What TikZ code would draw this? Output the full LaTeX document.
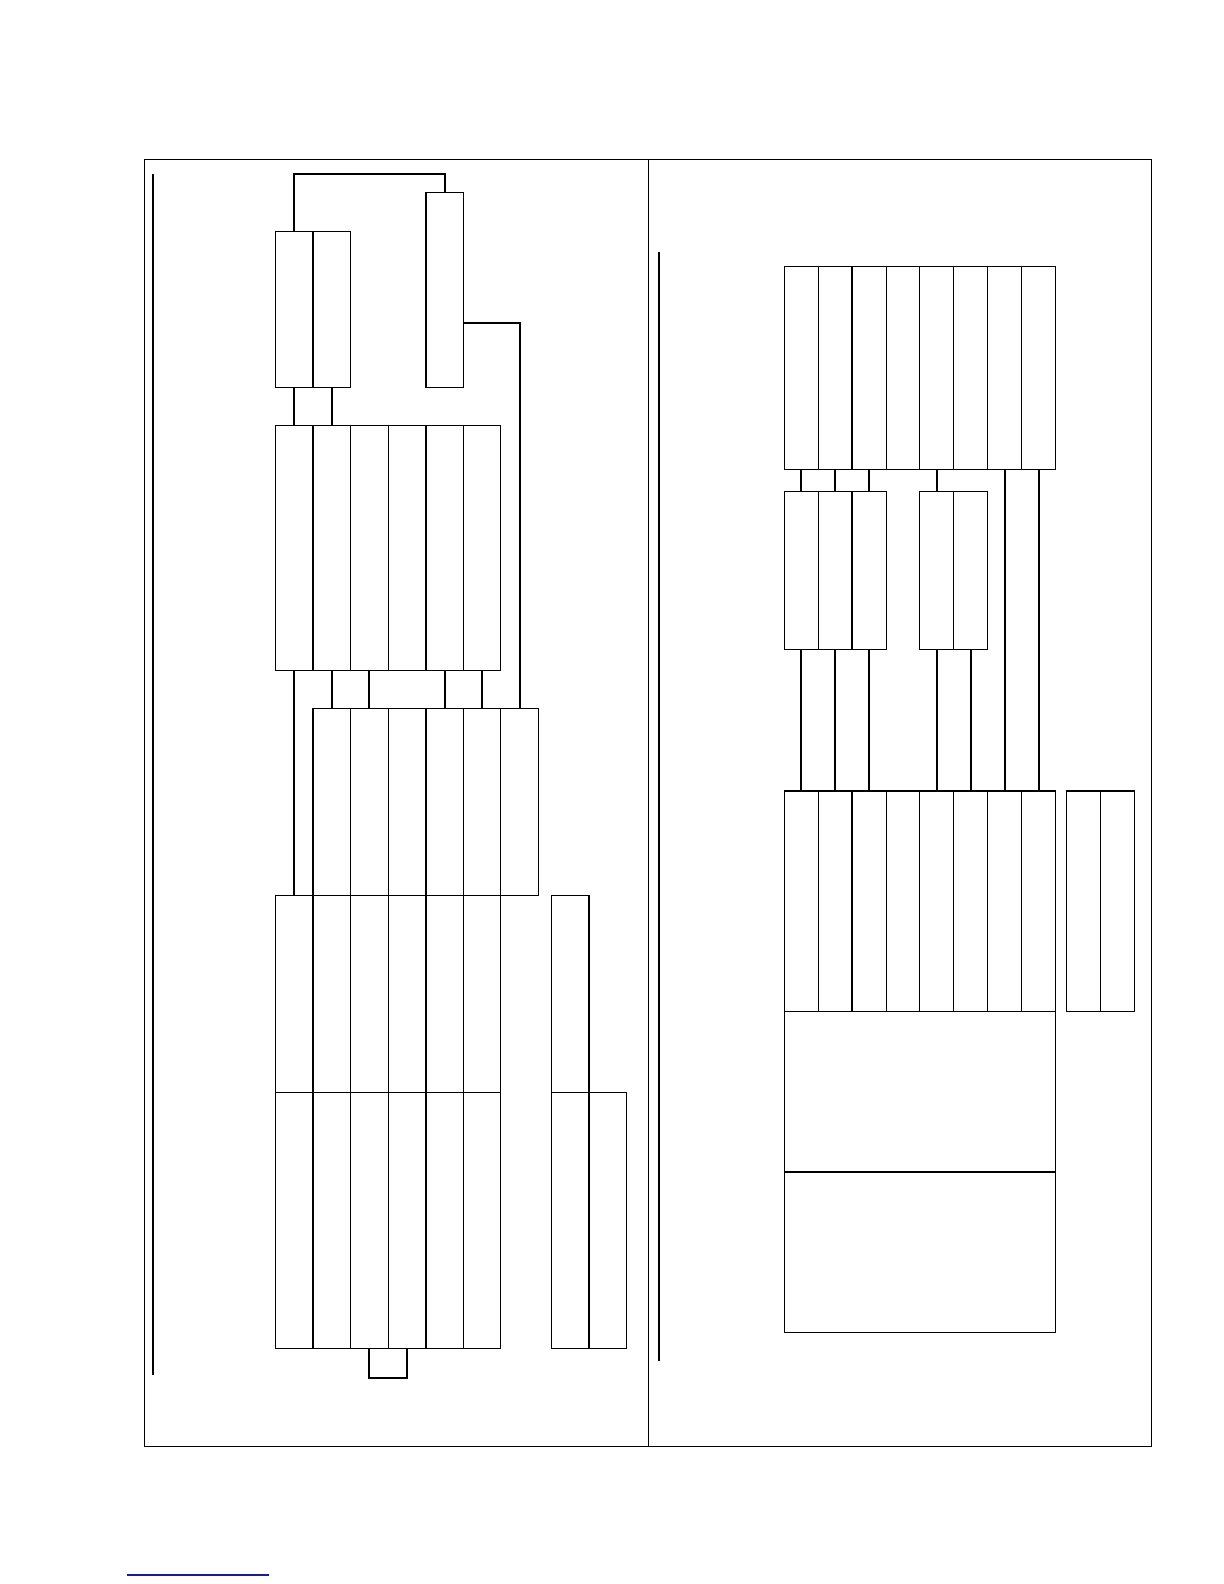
\documentclass[tikz,border=0pt]{standalone}
\usepackage{tikz}
\usepackage{xcolor}
\definecolor{underlineblue}{HTML}{1A1A9C}

\tikzset{
    lcol/.style = {draw, rectangle, line width = 0.5pt, inner sep = 0pt, outer sep = 0pt, minimum width = 18.8pt},
    rcol/.style = {draw, rectangle, line width = 0.5pt, inner sep = 0pt, outer sep = 0pt, minimum width = 16.95pt},
    divider/.style = {line width = 0.9pt},
    link/.style = {line width = 1pt}
}

\begin{document}
\begin{tikzpicture}[x = 0.5pt, y = -0.5pt]
        \useasboundingbox (0, 0) rectangle (1224, 1584);

        % Frame
        \draw [line width = 0.6pt] (144.3, 159.3) rectangle (1151.6, 1446.5);
        \draw [line width = 0.6pt] (648.3, 159.3) -- (648.3, 1446.5);
        \draw [link] (152.7, 174) -- (152.7, 1375);
        \draw [link] (659, 252.3) -- (659, 1360.7);

        % Nodes, left half
        \node [lcol, minimum height = 78.15pt] (a1) at (294.1, 309.15) {};
        \node [lcol, minimum height = 78.15pt] (a2) at (331.7, 309.15) {};
        \node [lcol, minimum height = 97.5pt] (b) at (444.5, 289.8) {};

        \node [lcol, minimum height = 122.65pt] (c1) at (294.1, 547.65) {};
        \node [lcol, minimum height = 122.65pt] (c2) at (331.7, 547.65) {};
        \node [lcol, minimum height = 122.65pt] (c3) at (369.3, 547.65) {};
        \node [lcol, minimum height = 122.65pt] (c4) at (406.9, 547.65) {};
        \node [lcol, minimum height = 122.65pt] (c5) at (444.5, 547.65) {};
        \node [lcol, minimum height = 122.65pt] (c6) at (482.1, 547.65) {};

        \node [lcol, minimum height = 93.35pt] (e2) at (331.7, 801.65) {};
        \node [lcol, minimum height = 93.35pt] (e3) at (369.3, 801.65) {};
        \node [lcol, minimum height = 93.35pt] (e4) at (406.9, 801.65) {};
        \node [lcol, minimum height = 93.35pt] (e5) at (444.5, 801.65) {};
        \node [lcol, minimum height = 93.35pt] (e6) at (482.1, 801.65) {};
        \node [lcol, minimum height = 93.35pt] (e7) at (519.7, 801.65) {};

        \node [lcol, minimum height = 98.65pt] (d1) at (294.1, 993.65) {};
        \node [lcol, minimum height = 98.65pt] (d2) at (331.7, 993.65) {};
        \node [lcol, minimum height = 98.65pt] (d3) at (369.3, 993.65) {};
        \node [lcol, minimum height = 98.65pt] (d4) at (406.9, 993.65) {};
        \node [lcol, minimum height = 98.65pt] (d5) at (444.5, 993.65) {};
        \node [lcol, minimum height = 98.65pt] (d6) at (482.1, 993.65) {};
        \node [lcol, minimum height = 98.65pt] (f1) at (570.1, 993.65) {};

        \node [lcol, minimum height = 127.85pt] (h1) at (294.1, 1220.15) {};
        \node [lcol, minimum height = 127.85pt] (h2) at (331.7, 1220.15) {};
        \node [lcol, minimum height = 127.85pt] (h3) at (369.3, 1220.15) {};
        \node [lcol, minimum height = 127.85pt] (h4) at (406.9, 1220.15) {};
        \node [lcol, minimum height = 127.85pt] (h5) at (444.5, 1220.15) {};
        \node [lcol, minimum height = 127.85pt] (h6) at (482.1, 1220.15) {};
        \node [lcol, minimum height = 127.85pt] (g1) at (570.1, 1220.15) {};
        \node [lcol, minimum height = 127.85pt] (g2) at (607.7, 1220.15) {};

        % Heavy column rules, left half
        \draw [divider] (a1.north east) -- (a1.south east);
        \draw [divider] (b.north west) -- (b.south west);
        \draw [divider] (c1.north east) -- (c1.south east);
        \draw [divider] (c4.north east) -- (c4.south east);
        \draw [divider] (e2.north west) -- (e2.south west);
        \draw [divider] (e4.north east) -- (e4.south east);
        \draw [divider] (d1.north east) -- (h1.south east);
        \draw [divider] (d4.north east) -- (h4.south east);
        \draw [divider] (f1.north east) -- (g1.south east);

        % Draw the links, left half
        \coordinate (topbar) at (369.3, 174);
        \coordinate (bout) at (463.3, 322.7);
        \coordinate (ubot) at (388.1, 1377.7);
        \draw [link] (a1.north) |- (topbar) -| (b.north);
        \draw [link] (bout) -| (e7.north);
        \draw [link] (a1.south) -- (c1.north);
        \draw [link] (a2.south) -- (c2.north);
        \draw [link] (c1.south) -- (d1.north);
        \draw [link] (c2.south) -- (e2.north);
        \draw [link] (c3.south) -- (e3.north);
        \draw [link] (c5.south) -- (e5.north);
        \draw [link] (c6.south) -- (e6.north);
        \draw [link] (h3.south) |- (ubot) -| (h4.south);

        % Nodes, right half
        \node [rcol, minimum height = 101.5pt] (i1) at (801.25, 367.8) {};
        \node [rcol, minimum height = 101.5pt] (i2) at (835.15, 367.8) {};
        \node [rcol, minimum height = 101.5pt] (i3) at (869.05, 367.8) {};
        \node [rcol, minimum height = 101.5pt] (i4) at (902.95, 367.8) {};
        \node [rcol, minimum height = 101.5pt] (i5) at (936.85, 367.8) {};
        \node [rcol, minimum height = 101.5pt] (i6) at (970.75, 367.8) {};
        \node [rcol, minimum height = 101.5pt] (i7) at (1004.65, 367.8) {};
        \node [rcol, minimum height = 101.5pt] (i8) at (1038.55, 367.8) {};

        \node [rcol, minimum height = 79pt] (j1) at (801.25, 570.3) {};
        \node [rcol, minimum height = 79pt] (j2) at (835.15, 570.3) {};
        \node [rcol, minimum height = 79pt] (j3) at (869.05, 570.3) {};
        \node [rcol, minimum height = 79pt] (k5) at (936.85, 570.3) {};
        \node [rcol, minimum height = 79pt] (k6) at (970.75, 570.3) {};

        \node [rcol, minimum height = 110.15pt] (l1) at (801.25, 900.85) {};
        \node [rcol, minimum height = 110.15pt] (l2) at (835.15, 900.85) {};
        \node [rcol, minimum height = 110.15pt] (l3) at (869.05, 900.85) {};
        \node [rcol, minimum height = 110.15pt] (l4) at (902.95, 900.85) {};
        \node [rcol, minimum height = 110.15pt] (l5) at (936.85, 900.85) {};
        \node [rcol, minimum height = 110.15pt] (l6) at (970.75, 900.85) {};
        \node [rcol, minimum height = 110.15pt] (l7) at (1004.65, 900.85) {};
        \node [rcol, minimum height = 110.15pt] (l8) at (1038.55, 900.85) {};
        \node [rcol, minimum height = 110.15pt] (m1) at (1083.25, 900.85) {};
        \node [rcol, minimum height = 110.15pt] (m2) at (1117.15, 900.85) {};

        \node [rcol, minimum width = 135.6pt, minimum height = 80.35pt] (n) at (919.9, 1091.35) {};
        \node [rcol, minimum width = 135.6pt, minimum height = 80.3pt] (o) at (919.9, 1252) {};

        % Heavy rules, right half
        \draw [divider] (i2.north east) -- (i2.south east);
        \draw [divider] (j2.north east) -- (j2.south east);
        \draw [divider] (l2.north east) -- (l2.south east);
        \draw [divider] (l1.north west) -- (l8.north east);
        \draw [divider] (m1.north west) -- (m2.north east);
        \draw [divider] (n.south west) -- (n.south east);

        % Draw the links, right half
        \draw [link] (i1.south) -- (j1.north);
        \draw [link] (i2.south) -- (j2.north);
        \draw [link] (i3.south) -- (j3.north);
        \draw [link] (j1.south) -- (l1.north);
        \draw [link] (j2.south) -- (l2.north);
        \draw [link] (j3.south) -- (l3.north);
        \draw [link] (i5.south) -- (k5.north);
        \draw [link] (k5.south) -- (l5.north);
        \draw [link] (k6.south) -- (l6.north);
        \draw [link] (i7.south) -- (l7.north);
        \draw [link] (i8.south) -- (l8.north);

        % Underline at the foot of the page
        \draw [underlineblue, line width = 0.7pt] (127, 1575) -- (269, 1575);

    \end{tikzpicture}
\end{document}
